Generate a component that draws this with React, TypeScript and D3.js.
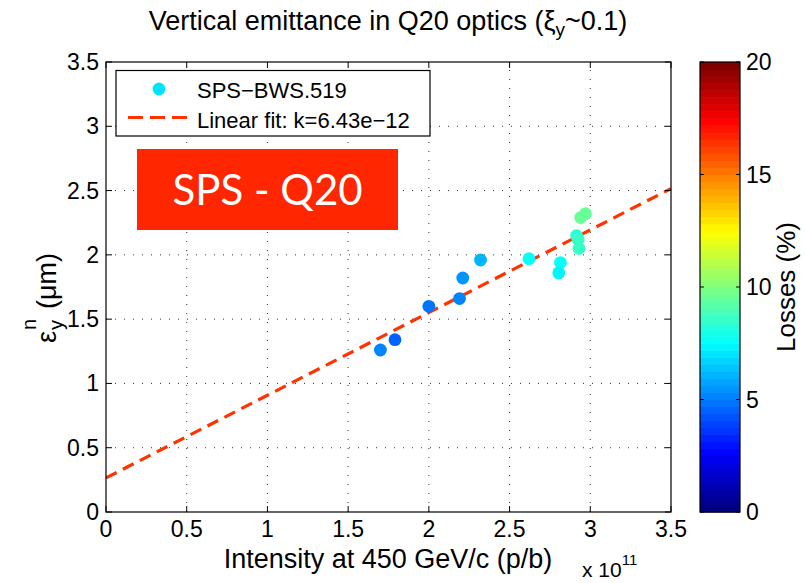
import React, { useEffect } from "react";
import * as d3 from "d3";

// ---- data ----
const intensity = [1.70, 1.79, 2.00, 2.19, 2.21, 2.32, 2.62, 2.815, 2.805, 2.93, 2.915, 2.925, 2.94, 2.97]; // x 1e11 p/b
const emittance = [1.26, 1.34, 1.60, 1.66, 1.82, 1.96, 1.97, 1.94, 1.86, 2.05, 2.15, 2.12, 2.29, 2.32]; // um
const losses = [5.25, 4.6, 4.75, 5.25, 5.5, 6.1, 7.5, 7.8, 7.4, 8.5, 8.4, 8.5, 9.5, 9.6]; // %
const FIT_K = 0.643; // per 1e11 (k = 6.43e-12)
const FIT_B = 0.265;
const xTicks = [0, 0.5, 1, 1.5, 2, 2.5, 3, 3.5];
const yTicks = [0, 0.5, 1, 1.5, 2, 2.5, 3, 3.5];
const cTicks = [0, 5, 10, 15, 20];
const LEGEND_LOSS = 7.1;

const FONT = "'Liberation Sans', Arial, Helvetica, sans-serif";

function jet(t: number): string {
  const c = (v: number) => Math.max(0, Math.min(1, v));
  const r = c(1.5 - Math.abs(4 * t - 3));
  const g = c(1.5 - Math.abs(4 * t - 2));
  const b = c(1.5 - Math.abs(4 * t - 1));
  return d3.rgb(r * 255, g * 255, b * 255).formatHex();
}
const N_LEVELS = 64;
function jetIdx(v: number, lo: number, hi: number) {
  const t = (v - lo) / (hi - lo);
  const i = Math.max(0, Math.min(N_LEVELS - 1, Math.floor(t * N_LEVELS)));
  return jet(i / (N_LEVELS - 1));
}

export default function App() {
  useEffect(() => {
    document.body.style.margin = "0";
  }, []);
  const W = 807, H = 583;
  const L = 106, R = 671, T = 62, B = 512;
  const x = d3.scaleLinear().domain([0, 3.5]).range([L, R]);
  const y = d3.scaleLinear().domain([0, 3.5]).range([B, T]);
  const cbL = 700, cbR = 740;
  const cy = d3.scaleLinear().domain([0, 20]).range([B, T]);
  const tickLen = 6;
  const fitLine = d3.line<number>().x((d) => x(d)).y((d) => y(FIT_B + FIT_K * d));
  const levels = d3.range(N_LEVELS);
  const bandH = (B - T) / N_LEVELS;
  const PR = 6.4;

  return (
    <svg width={W} height={H} style={{ display: "block", background: "#fff" }} fontFamily={FONT}>
      <rect x={0} y={0} width={W} height={H} fill="#fff" />
      {/* grid */}
      {xTicks.slice(1, -1).map((t) => (
        <line key={"gx" + t} x1={x(t)} x2={x(t)} y1={B} y2={T} stroke="#333" strokeWidth={1} strokeDasharray="1 8" />
      ))}
      {yTicks.slice(1, -1).map((t) => (
        <line key={"gy" + t} x1={L} x2={R} y1={y(t)} y2={y(t)} stroke="#333" strokeWidth={1} strokeDasharray="1 8" />
      ))}
      {/* SPS - Q20 box */}
      <rect x={137} y={149} width={261} height={81} fill="#ff2600" />
      <text x={267.5} y={205} textAnchor="middle" fill="#fff" fontFamily="Lato, 'Open Sans', sans-serif" fontSize={42}>
        SPS - Q20
      </text>
      {/* fit line */}
      <path d={fitLine([0, 3.5]) || ""} fill="none" stroke="#ff3300" strokeWidth={3.2} strokeDasharray="12 7" />
      {/* points */}
      {intensity.map((v, i) => (
        <circle key={"p" + i} cx={x(v)} cy={y(emittance[i])} r={PR} fill={jetIdx(losses[i], 0, 20)} />
      ))}
      {/* ticks */}
      {xTicks.map((t) => (
        <g key={"xt" + t}>
          <line x1={x(t)} x2={x(t)} y1={B} y2={B - tickLen} stroke="#000" />
          <line x1={x(t)} x2={x(t)} y1={T} y2={T + tickLen} stroke="#000" />
          <text x={x(t)} y={537} textAnchor="middle" fontSize={23} fill="#000">{String(t)}</text>
        </g>
      ))}
      {yTicks.map((t) => (
        <g key={"yt" + t}>
          <line x1={L} x2={L + tickLen} y1={y(t)} y2={y(t)} stroke="#000" />
          <line x1={R} x2={R - tickLen} y1={y(t)} y2={y(t)} stroke="#000" />
          <text x={99} y={y(t) + 8} textAnchor="end" fontSize={23} fill="#000">{String(t)}</text>
        </g>
      ))}
      <rect x={L} y={T} width={R - L} height={B - T} fill="none" stroke="#000" strokeWidth={1.2} />
      {/* legend */}
      <rect x={116} y={70.5} width={314} height={65.5} fill="#fff" stroke="#000" strokeWidth={1.2} />
      <circle cx={159} cy={89} r={PR} fill={jetIdx(LEGEND_LOSS, 0, 20)} />
      <text x={197} y={98} fontSize={22} fill="#000">SPS−BWS.519</text>
      <line x1={128} x2={187} y1={117.5} y2={117.5} stroke="#ff3300" strokeWidth={3.2} strokeDasharray="15 7" />
      <text x={197} y={127.5} fontSize={22} fill="#000">Linear fit: k=6.43e−12</text>
      {/* title */}
      <text x={388} y={30} textAnchor="middle" fontSize={27} fill="#000">
        Vertical emittance in Q20 optics (ξ<tspan fontSize={19} dy={6}>y</tspan><tspan dy={-6}>~0.1)</tspan>
      </text>
      {/* x label */}
      <text x={388} y={568} textAnchor="middle" fontSize={27} fill="#000">Intensity at 450 GeV/c (p/b)</text>
      <text x={582} y={577} fontSize={21} fill="#000">x 10<tspan fontSize={15} dy={-12}>11</tspan></text>
      {/* y label */}
      <g transform="translate(56,287) rotate(-90)">
        <text x={-56} y={0} fontSize={27} fill="#000">ε</text>
        <text x={-43} y={7} fontSize={20} fill="#000">y</text>
        <text x={-43} y={-20} fontSize={20} fill="#000">n</text>
        <text x={-22} y={0} fontSize={27} fill="#000">(μm)</text>
      </g>
      {/* colorbar */}
      {levels.map((i) => (
        <rect key={"cb" + i} x={cbL} y={B - (i + 1) * bandH} width={cbR - cbL} height={bandH + 0.6} fill={jet(i / (N_LEVELS - 1))} />
      ))}
      <rect x={cbL} y={T} width={cbR - cbL} height={B - T} fill="none" stroke="#000" strokeWidth={1.2} />
      {cTicks.map((t) => (
        <g key={"ct" + t}>
          <line x1={cbR} x2={cbR - 4} y1={cy(t)} y2={cy(t)} stroke="#000" />
          <line x1={cbL} x2={cbL + 4} y1={cy(t)} y2={cy(t)} stroke="#000" />
          <text x={746} y={cy(t) + 8} fontSize={23} fill="#000">{String(t)}</text>
        </g>
      ))}
      <text transform="translate(795,287) rotate(-90)" textAnchor="middle" fontSize={26} fill="#000">Losses (%)</text>
    </svg>
  );
}
